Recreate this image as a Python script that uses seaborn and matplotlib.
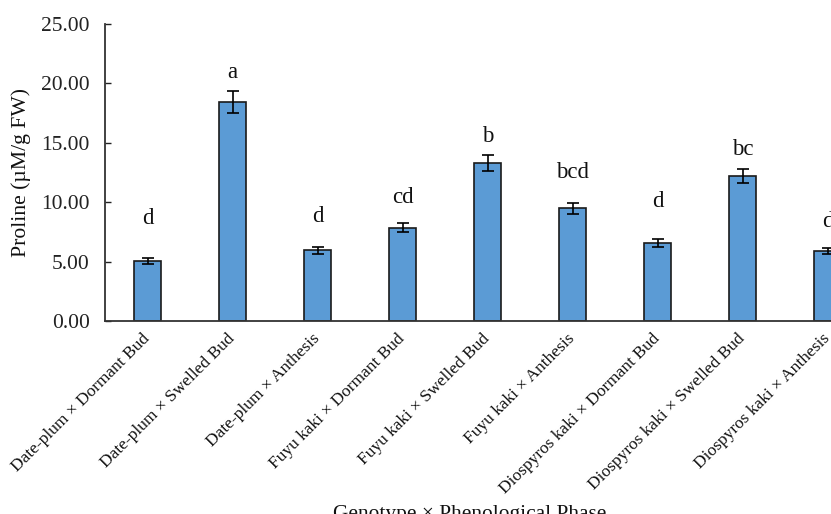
import matplotlib
matplotlib.use("Agg")
import matplotlib.pyplot as plt
import seaborn as sns
import pandas as pd

# Proline content per genotype x phenological phase (mean, standard error)
categories = [
    "Date-plum × Dormant Bud",
    "Date-plum × Swelled Bud",
    "Date-plum × Anthesis",
    "Fuyu kaki × Dormant Bud",
    "Fuyu kaki × Swelled Bud",
    "Fuyu kaki × Anthesis",
    "Diospyros kaki × Dormant Bud",
    "Diospyros kaki × Swelled Bud",
    "Diospyros kaki × Anthesis",
]
proline = [5.05, 18.43, 5.95, 7.85, 13.30, 9.49, 6.54, 12.23, 5.92]
errors = [0.25, 0.93, 0.31, 0.36, 0.69, 0.46, 0.34, 0.60, 0.26]
letters = ["d", "a", "d", "cd", "b", "bcd", "d", "bc", "d"]
letter_heights = [8.6, 20.9, 8.8, 10.4, 15.5, 12.5, 10.1, 14.4, 8.4]
y_ticks = [0, 5, 10, 15, 20, 25]

sns.set_theme(style="white")
plt.rcParams["font.family"] = ["Liberation Serif", "DejaVu Serif"]

df = pd.DataFrame({"category": categories, "proline": proline})

W, H = 831, 514
fig = plt.figure(figsize=(W / 100, H / 100), dpi=100)
left_px, right_px, top_px, bottom_px = 105, 870, 24, 321
ax = fig.add_axes([left_px / W, 1 - bottom_px / H,
                   (right_px - left_px) / W, (bottom_px - top_px) / H])

sns.barplot(data=df, x="category", y="proline", ax=ax, color="#5B9BD5",
            width=0.32, edgecolor="#1a1a1a", linewidth=1.2, saturation=1,
            errorbar=None)

for patch, m, e, lab, lh in zip(ax.patches, proline, errors, letters, letter_heights):
    xc = patch.get_x() + patch.get_width() / 2
    ax.errorbar(xc, m, yerr=e, color="black", elinewidth=1.2, capsize=4.2,
                capthick=1.2, zorder=5)
    ax.text(xc, lh, lab, ha="center", va="center", fontsize=16.5, color="#111111",
            clip_on=False)

ax.set_xlim(-0.5, len(categories) - 0.5)
ax.set_ylim(0, 25)
ax.set_yticks(y_ticks)
ax.set_yticklabels([f"{v:.2f}" for v in y_ticks])
ax.tick_params(axis="y", direction="in", length=4.5, width=1.0, pad=11,
               labelsize=15.5, colors="#222222", left=True)
ax.tick_params(axis="x", length=0, pad=11)
ax.set_xticks(range(len(categories)))
ax.set_xticklabels(categories, rotation=45, ha="right", va="center",
                   rotation_mode="anchor", fontsize=12.5, color="#111111")

for side in ("top", "right"):
    ax.spines[side].set_visible(False)
for side in ("left", "bottom"):
    ax.spines[side].set_color("#333333")
    ax.spines[side].set_linewidth(1.3)

ax.set_xlabel("")
ax.set_ylabel("")
fig.text(21 / W, 1 - 172.5 / H, "Proline (µM/g FW)", rotation=90,
         ha="center", va="center", fontsize=15.6, color="#111111")
fig.text(470 / W, 1 - 505 / H, "Genotype × Phenological Phase",
         ha="center", va="top", fontsize=15.4, color="#111111")

fig.savefig("out.png", dpi=100)
